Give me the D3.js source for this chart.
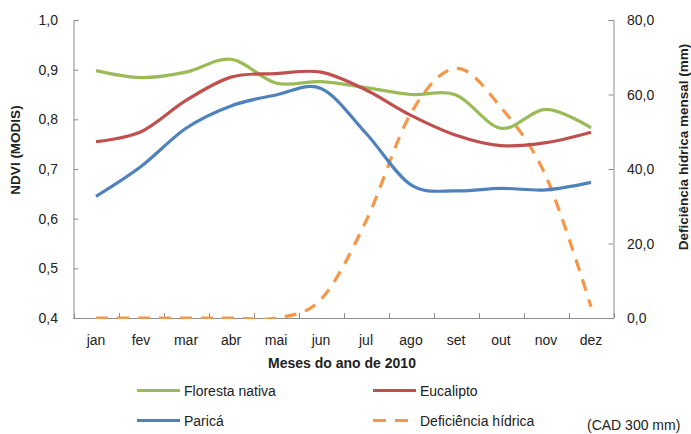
<!DOCTYPE html>
<html>
<head>
<meta charset="utf-8">
<script src="https://cdn.jsdelivr.net/npm/d3@7"></script>
<style>
  body { margin: 0; background: #fff; }
  text { font-family: "Liberation Sans", Arial, sans-serif; fill: #222; }
</style>
</head>
<body>
<div id="root"></div>
<script>
// months of 2010
let months = ['jan', 'fev', 'mar', 'abr', 'mai', 'jun', 'jul', 'ago', 'set', 'out', 'nov', 'dez'];

// NDVI (MODIS), left axis
let floresta = [0.898, 0.884, 0.895, 0.921, 0.873, 0.876, 0.864, 0.850, 0.849, 0.782, 0.820, 0.783];
let eucalipto = [0.755, 0.775, 0.838, 0.885, 0.892, 0.895, 0.859, 0.808, 0.768, 0.747, 0.753, 0.774];
let parica = [0.645, 0.705, 0.782, 0.827, 0.849, 0.862, 0.772, 0.668, 0.656, 0.661, 0.658, 0.673];

// deficiência hídrica mensal (mm), right axis
let deficiencia = [0, 0, 0, 0, 0, 5, 26, 55, 67, 56.5, 38, 3];

let leftTicks = [0.4, 0.5, 0.6, 0.7, 0.8, 0.9, 1.0];
let rightTicks = [0, 20, 40, 60, 80];

let width = 691, height = 434;
let plot = { left: 73.5, right: 613.5, top: 20, bottom: 318 };
let axisColor = '#8c8c8c';

let svg = d3.select('#root').append('svg')
    .attr('width', width)
    .attr('height', height);

// keep the smoothed lines inside the plot, as the original does
svg.append('defs').append('clipPath').attr('id', 'plotClip')
    .append('rect')
    .attr('x', plot.left).attr('y', plot.top - 10)
    .attr('width', plot.right - plot.left)
    .attr('height', plot.bottom - plot.top + 11);

let x = d3.scaleBand()
    .domain(months)
    .range([plot.left, plot.right]);

let y = d3.scaleLinear().domain([0.4, 1.0]).range([plot.bottom, plot.top]);
let y2 = d3.scaleLinear().domain([0, 80]).range([plot.bottom, plot.top]);

let cx = function (d, i) { return x(months[i]) + x.bandwidth() / 2; };

// axes (ticks point inward like the original)
let fmt1 = function (v) { return d3.format('.1f')(v).replace('.', ','); };

svg.append('g').attr('transform', 'translate(' + plot.left + ',0)')
    .call(d3.axisRight(y).tickValues(leftTicks).tickSize(5).tickSizeOuter(5).tickFormat(''));
svg.append('g').attr('transform', 'translate(' + plot.right + ',0)')
    .call(d3.axisLeft(y2).tickValues(rightTicks).tickSize(5).tickSizeOuter(5).tickFormat(''));

// bottom axis: ticks at category boundaries
let bounds = d3.range(months.length + 1).map(function (i) { return plot.left + i * x.step(); });
svg.append('line')
    .attr('x1', plot.left).attr('x2', plot.right)
    .attr('y1', plot.bottom + 0.5).attr('y2', plot.bottom + 0.5)
    .attr('stroke', axisColor);
svg.selectAll('.xtick').data(bounds).enter().append('line')
    .attr('class', 'xtick')
    .attr('x1', function (d) { return Math.round(d) + 0.5; })
    .attr('x2', function (d) { return Math.round(d) + 0.5; })
    .attr('y1', plot.bottom).attr('y2', plot.bottom - 5)
    .attr('stroke', axisColor);

svg.selectAll('.domain, .tick line').attr('stroke', axisColor);

svg.selectAll('.ylab').data(leftTicks).enter().append('text')
    .attr('x', 58).attr('y', function (d) { return y(d) + 5; })
    .attr('text-anchor', 'end')
    .style('font-size', '14px')
    .text(fmt1);

svg.selectAll('.y2lab').data(rightTicks).enter().append('text')
    .attr('x', 627).attr('y', function (d) { return y2(d) + 5; })
    .style('font-size', '14px')
    .text(fmt1);

svg.selectAll('.xlab').data(months).enter().append('text')
    .attr('x', function (d) { return x(d) + x.bandwidth() / 2; })
    .attr('y', 345)
    .attr('text-anchor', 'middle')
    .style('font-size', '14px')
    .text(function (d) { return d; });

// axis titles
svg.append('text')
    .attr('x', 342).attr('y', 368)
    .attr('text-anchor', 'middle')
    .style('font-size', '14px').style('font-weight', 'bold')
    .text('Meses do ano de 2010');

svg.append('text')
    .attr('transform', 'translate(20,150) rotate(-90)')
    .attr('text-anchor', 'middle')
    .style('font-size', '13.5px').style('font-weight', 'bold')
    .text('NDVI (MODIS)');

svg.append('text')
    .attr('transform', 'translate(688,147) rotate(-90)')
    .attr('text-anchor', 'middle')
    .style('font-size', '13.5px').style('font-weight', 'bold')
    .text('Deficiência hídrica mensal (mm)');

// series
let curve = d3.curveCardinal.tension(0);

let series = [
    { name: 'Floresta nativa', values: floresta, color: '#9bbb59', scale: y, dash: null },
    { name: 'Eucalipto', values: eucalipto, color: '#c0504d', scale: y, dash: null },
    { name: 'Paricá', values: parica, color: '#4f81bd', scale: y, dash: null },
    { name: 'Deficiência hídrica', values: deficiencia, color: '#f79646', scale: y2, dash: '12,9' }
];

let lines = svg.append('g').attr('clip-path', 'url(#plotClip)');

// draw orange first so the NDVI lines sit on top
[series[3], series[0], series[1], series[2]].forEach(function (s) {
    let line = d3.line()
        .x(cx)
        .y(function (d) { return s.scale(d); })
        .curve(curve);
    lines.append('path')
        .datum(s.values)
        .attr('d', line)
        .attr('fill', 'none')
        .attr('stroke', s.color)
        .attr('stroke-width', 3.2)
        .attr('stroke-dasharray', s.dash)
        .attr('stroke-linejoin', 'round');
});

// legend
let legendItems = [
    { s: series[0], lx: 137, ly: 390.5 },
    { s: series[1], lx: 373, ly: 390.5 },
    { s: series[2], lx: 137, ly: 420.5 },
    { s: series[3], lx: 373, ly: 420.5 }
];

legendItems.forEach(function (it) {
    svg.append('line')
        .attr('x1', it.lx).attr('x2', it.lx + 43)
        .attr('y1', it.ly).attr('y2', it.ly)
        .attr('stroke', it.s.color)
        .attr('stroke-width', 3.2)
        .attr('stroke-dasharray', it.s.dash ? '13,9' : null);
    svg.append('text')
        .attr('x', it.lx + 47).attr('y', it.ly + 5)
        .style('font-size', '14px')
        .text(it.s.name);
});

svg.append('text')
    .attr('x', 587).attr('y', 430)
    .style('font-size', '14px')
    .text('(CAD 300 mm)');
</script>
</body>
</html>
